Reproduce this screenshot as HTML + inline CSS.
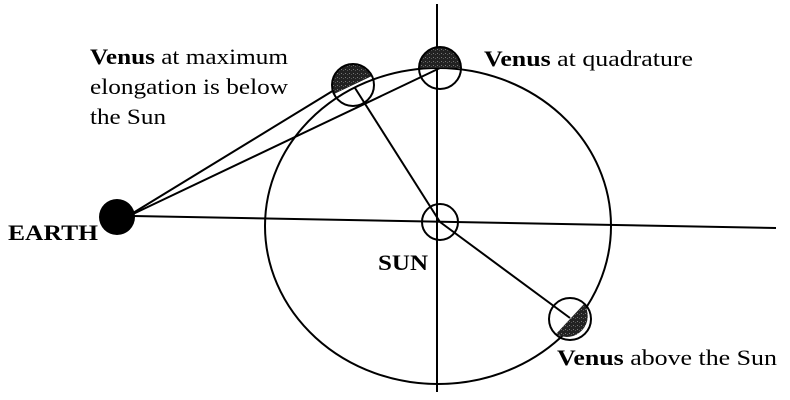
<!DOCTYPE html>
<html><head><style>
body{margin:0;background:#fff;}
svg{display:block;}
text{font-family:"Liberation Serif",serif;font-size:22px;fill:#000;}
</style></head><body>
<svg width="790" height="400" xmlns="http://www.w3.org/2000/svg">
<defs>
<pattern id="g" width="4" height="4" patternUnits="userSpaceOnUse">
<rect width="4" height="4" fill="#222"/><rect x="1" y="1" width="1" height="1" fill="#777"/><rect x="3" y="2" width="1" height="1" fill="#555"/>
</pattern>
</defs>
<g stroke="#000" stroke-width="2" fill="none">
<ellipse cx="438" cy="226" rx="173" ry="158"/>
<line x1="133" y1="216" x2="776" y2="228"/>
<line x1="437" y1="4" x2="437" y2="392"/>
<line x1="133" y1="213" x2="344" y2="84"/>
<line x1="133" y1="214" x2="440" y2="68"/>
<line x1="355" y1="88" x2="440" y2="222"/>
<line x1="440" y1="222" x2="570" y2="318"/>
</g>
<circle cx="117" cy="217" r="18" fill="#000"/>
<circle cx="440" cy="222" r="18" fill="none" stroke="#000" stroke-width="2"/>
<path d="M419,68 A21,21 0 0 1 461,68 Z" fill="url(#g)"/>
<circle cx="440" cy="68" r="21" fill="none" stroke="#000" stroke-width="2"/>
<path d="M334,94 A21,21 0 0 1 372,76 Z" fill="url(#g)"/>
<circle cx="353" cy="85" r="21" fill="none" stroke="#000" stroke-width="2"/>
<path d="M584,304 A21,21 0 0 1 556,334 Z" fill="url(#g)"/>
<circle cx="570" cy="319" r="21" fill="none" stroke="#000" stroke-width="2"/>
<text x="90" y="64" textLength="198" lengthAdjust="spacingAndGlyphs"><tspan font-weight="bold">Venus</tspan> at maximum</text>
<text x="90" y="94" textLength="198" lengthAdjust="spacingAndGlyphs">elongation is below</text>
<text x="90" y="124" textLength="76" lengthAdjust="spacingAndGlyphs">the Sun</text>
<text x="484" y="66" textLength="209" lengthAdjust="spacingAndGlyphs"><tspan font-weight="bold">Venus</tspan> at quadrature</text>
<text x="557" y="365" textLength="220" lengthAdjust="spacingAndGlyphs"><tspan font-weight="bold">Venus</tspan> above the Sun</text>
<text x="8" y="240" font-weight="bold" textLength="90" lengthAdjust="spacingAndGlyphs">EARTH</text>
<text x="378" y="270" font-weight="bold" textLength="50" lengthAdjust="spacingAndGlyphs">SUN</text>
</svg>
</body></html>
